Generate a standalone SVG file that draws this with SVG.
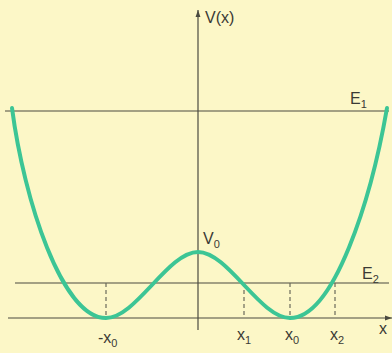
<svg xmlns="http://www.w3.org/2000/svg" width="392" height="353" viewBox="0 0 392 353">
<defs>
<style>
.ax{stroke:#4a4a40;stroke-width:1.2;fill:none}
.dash{stroke:#6a6a5a;stroke-width:1.2;stroke-dasharray:4 3;fill:none}
.curve{stroke:#3cc595;stroke-width:4;fill:none;stroke-linecap:round}
text{font-family:"Liberation Sans",Arial,sans-serif;fill:#3a3a35;font-size:16px}
.sub{font-size:11px}
</style>
<marker id="arr" viewBox="0 0 10 10" refX="10" refY="5" markerWidth="12" markerHeight="7" markerUnits="userSpaceOnUse" orient="auto">
<path d="M0,1.5 L10,5 L0,8.5 Z" fill="#4a4a40"/>
</marker>
</defs>
<rect width="392" height="353" fill="#fcf7c7"/>
<g id="connectors">
<line class="ax" x1="198" y1="330" x2="198" y2="10" marker-end="url(#arr)"/>
<line class="ax" x1="8" y1="318" x2="392" y2="318" marker-end="url(#arr)"/>
<line class="ax" x1="5" y1="111" x2="389" y2="111"/>
<line class="ax" x1="15" y1="283" x2="389" y2="283"/>
<line class="dash" x1="106" y1="283" x2="106" y2="318"/>
<line class="dash" x1="244" y1="283" x2="244" y2="318"/>
<line class="dash" x1="290" y1="283" x2="290" y2="318"/>
<line class="dash" x1="335" y1="283" x2="335" y2="318"/>
</g>
<g id="potential">
<path class="curve" d="M12,108 C24,200 62,318 106,318 C136,318 168,252 198,252 C228,252 260,318 290,318 C334,318 371,200 387,108"/>
</g>
<g id="labels">
<text x="205" y="23">V(x)</text>
<text x="350" y="104">E<tspan class="sub" dy="4">1</tspan></text>
<text x="203" y="244">V<tspan class="sub" dy="4">0</tspan></text>
<text x="362" y="279">E<tspan class="sub" dy="4">2</tspan></text>
<text x="379" y="334">x</text>
<text x="98" y="343">-x<tspan class="sub" dy="4">0</tspan></text>
<text x="237" y="340">x<tspan class="sub" dy="4">1</tspan></text>
<text x="285" y="340">x<tspan class="sub" dy="4">0</tspan></text>
<text x="330" y="340">x<tspan class="sub" dy="4">2</tspan></text>
</g>
</svg>
